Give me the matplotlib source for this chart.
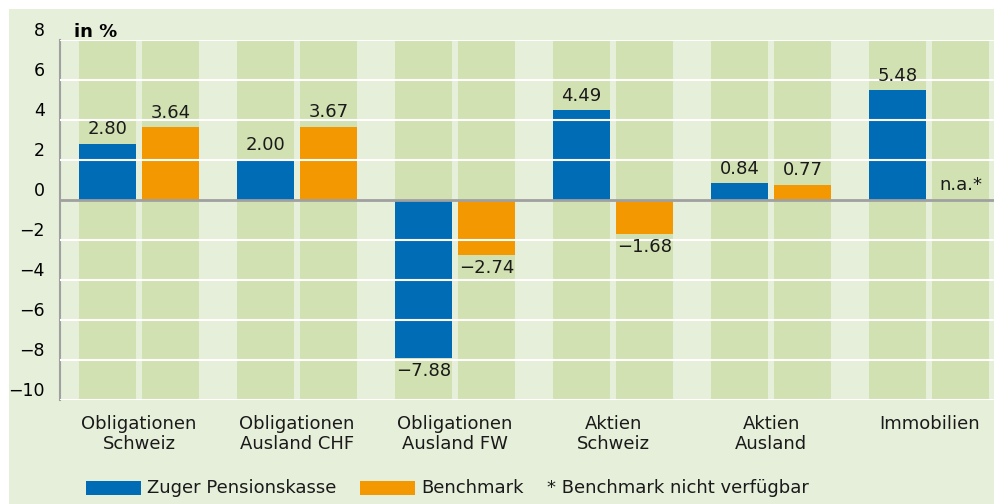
import numpy as np
import matplotlib.pyplot as plt
from matplotlib.patches import Rectangle

plt.rcParams['font.family'] = ['DejaVu Sans']

categories = ['Obligationen\nSchweiz', 'Obligationen\nAusland CHF', 'Obligationen\nAusland FW',
              'Aktien\nSchweiz', 'Aktien\nAusland', 'Immobilien']
zuger = [2.80, 2.00, -7.88, 4.49, 0.84, 5.48]
benchmark = [3.64, 3.67, -2.74, -1.68, 0.77, np.nan]
yticks = [8, 6, 4, 2, 0, -2, -4, -6, -8, -10]

blue = '#006cb5'
orange = '#f39800'
bg_light = '#e6efd9'
bg_col = '#d2e1b2'

W, H = 994, 504
fig = plt.figure(figsize=(W / 100, H / 100), dpi=100)
fig.patch.set_facecolor('white')
fig.patches.append(Rectangle((9 / W, 0), 1, (H - 9) / H, transform=fig.transFigure,
                             facecolor=bg_light, edgecolor='none', zorder=-5))

ax = fig.add_axes([60 / W, (H - 400) / H, (W - 60) / W, 360 / H])
ax.set_facecolor(bg_light)

x = np.arange(len(categories))
w = 57 / 158
off = 31.5 / 158

# green column backgrounds
ax.bar(x - off, 18, w, bottom=-10, color=bg_col, zorder=1)
ax.bar(x + off, 18, w, bottom=-10, color=bg_col, zorder=1)

ax.bar(x - off, zuger, w, color=blue, zorder=2)
ax.bar(x + off, np.nan_to_num(benchmark), w, color=orange, zorder=2)

ax.set_ylim(-10, 8)
ax.set_xlim(-0.5, 5.41)
ax.set_yticks(yticks)
ax.set_yticklabels([str(t).replace('-', '\u2212') for t in yticks], fontsize=12.5)
plt.setp(ax.get_yticklabels(), va='bottom')
ax.tick_params(axis='y', length=0, pad=11)
ax.set_xticks([])
for t in yticks:
    if t != 0:
        ax.axhline(t, color='white', lw=1.5, zorder=3)
ax.axhline(0, color='#a0a0a0', lw=2, zorder=4)
for s in ['top', 'right', 'bottom']:
    ax.spines[s].set_visible(False)
ax.spines['left'].set_color('#a0a0a0')
ax.spines['left'].set_linewidth(1.5)

def label(xp, v, txt):
    dy = 10.5 if v >= 0 else -9.5
    ax.annotate(txt, (xp, v), xytext=(0, dy), textcoords='offset points',
                ha='center', va='center', fontsize=13, color='#1a1a1a', zorder=5)

for i in range(len(categories)):
    label(x[i] - off, zuger[i], f'{zuger[i]:.2f}'.replace('-', '\u2212'))
    if np.isnan(benchmark[i]):
        label(x[i] + off, 0, 'n.a.*')
    else:
        label(x[i] + off, benchmark[i], f'{benchmark[i]:.2f}'.replace('-', '\u2212'))

for i, c in enumerate(categories):
    ax.annotate(c, (x[i], -10), xytext=(0, -11), textcoords='offset points',
                ha='center', va='top', fontsize=13, color='#1a1a1a', linespacing=1.15,
                annotation_clip=False)

fig.text(74 / W, 1 - 32 / H, 'in %', fontsize=13, fontweight='bold', va='center', ha='left')

# legend
ly = 1 - 488 / H
fig.patches.append(Rectangle((86 / W, 1 - 495 / H), 55 / W, 14 / H, transform=fig.transFigure,
                             facecolor=blue, edgecolor='none'))
fig.text(147 / W, ly, 'Zuger Pensionskasse', fontsize=13, va='center', color='#1a1a1a')
fig.patches.append(Rectangle((360 / W, 1 - 495 / H), 55 / W, 14 / H, transform=fig.transFigure,
                             facecolor=orange, edgecolor='none'))
fig.text(421 / W, ly, 'Benchmark', fontsize=13, va='center', color='#1a1a1a')
fig.text(547 / W, ly, '* Benchmark nicht verfügbar', fontsize=13, va='center', color='#1a1a1a')

fig.savefig('out.png', dpi=100)
